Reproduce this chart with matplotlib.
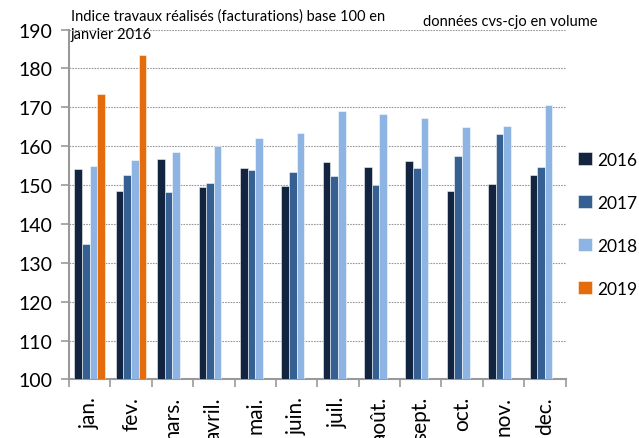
import numpy as np
import matplotlib.pyplot as plt

plt.rcParams['font.family'] = ['Lato', 'DejaVu Sans']

months = ['jan.', 'fev.', 'mars.', 'avril.', 'mai.', 'juin.', 'juil.',
          'août.', 'sept.', 'oct.', 'nov.', 'dec.']
y2016 = [154.1, 148.5, 156.7, 149.4, 154.3, 149.7, 155.8, 154.7, 156.2, 148.5, 150.3, 152.6]
y2017 = [134.8, 152.6, 148.1, 150.5, 153.9, 153.4, 152.2, 150.0, 154.3, 157.4, 163.0, 154.6]
y2018 = [155.0, 156.4, 158.4, 160.0, 162.0, 163.5, 169.0, 168.2, 167.2, 164.8, 165.2, 170.6]
y2019 = [173.3, 183.4]

series = [('2016', y2016, '#12243f'),
          ('2017', y2017, '#376092'),
          ('2018', y2018, '#8eb4e3'),
          ('2019', y2019, '#e46c0a')]

fig = plt.figure(figsize=(6.39, 4.39), dpi=100)
ax = fig.add_axes([0.108, 0.1335, 0.777, 0.797])

w = 0.184
x = np.arange(len(months))
for i, (lab, vals, col) in enumerate(series):
    xs = x[:len(vals)] + (i - 1.5) * w
    ax.bar(xs, np.array(vals) - 100, bottom=100, width=w, color=col,
           edgecolor=(1, 1, 1, 0.6), linewidth=0.6, label=lab, zorder=3)

ax.set_ylim(100, 190)
ax.set_xlim(-0.5, len(months) - 0.5)
ax.set_yticks(range(100, 191, 10))
ax.tick_params(axis='y', labelsize=14, length=6, color='#999999', width=1.2, pad=6)

# category boundaries as major ticks, month names on minor ticks
ax.set_xticks(np.arange(len(months) + 1) - 0.5)
ax.set_xticklabels([])
ax.tick_params(axis='x', which='major', length=6, color='#999999', width=1.2)
ax.set_xticks(x, minor=True)
ax.set_xticklabels(months, minor=True, rotation=90, fontsize=15)
ax.tick_params(axis='x', which='minor', length=0, pad=12)

ax.yaxis.grid(True, linestyle=(0, (1.5, 1)), color='#999999', linewidth=0.8, zorder=0)
for s in ['top', 'right']:
    ax.spines[s].set_visible(False)
for s in ['left', 'bottom']:
    ax.spines[s].set_color('#999999')
    ax.spines[s].set_linewidth(1.5)

leg = fig.legend(loc='upper left', bbox_to_anchor=(0.904, 0.652), frameon=False,
                 fontsize=12.5, handlelength=0.8, handleheight=0.8,
                 handletextpad=0.3, labelspacing=1.55, borderpad=0, borderaxespad=0)

fig.text(0.111, 0.978, 'Indice travaux réalisés (facturations) base 100 en\njanvier 2016',
         fontsize=10.5, va='top', ha='left', linespacing=1.35)
fig.text(0.662, 0.966, 'données cvs-cjo en volume', fontsize=10.5, va='top', ha='left')

fig.savefig('out.png', dpi=100)
